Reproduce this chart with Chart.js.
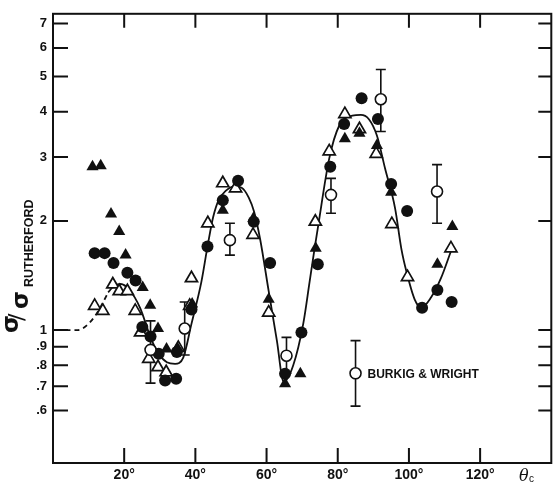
<!DOCTYPE html>
<html>
<head>
<meta charset="utf-8">
<script src="https://cdn.jsdelivr.net/npm/chart.js@4/dist/chart.umd.min.js"></script>
<style>
  html, body { margin: 0; padding: 0; background: #fff; }
  #wrap { width: 560px; height: 483px; }
</style>
</head>
<body>
<div id="wrap"><canvas id="rutherfordChart" width="560" height="483"></canvas></div>
<script>
// scattering angle (deg) and sigma / sigma_Rutherford
const filledCircleX = [11.7, 14.5, 17.0, 20.9, 23.2, 25.1, 27.4, 29.7, 31.5, 34.6, 34.8, 38.9, 43.4, 47.7, 52.0, 56.4, 61.0, 65.2, 69.8, 74.4, 77.9, 81.8, 86.7, 91.3, 95.0, 99.5, 103.7, 108.0, 112.0];
const filledCircleY = [1.63, 1.63, 1.53, 1.44, 1.37, 1.02, 0.96, 0.86, 0.726, 0.734, 0.87, 1.14, 1.70, 2.28, 2.58, 1.99, 1.53, 0.758, 0.985, 1.52, 2.82, 3.70, 4.36, 3.82, 2.53, 2.13, 1.153, 1.29, 1.195];

const filledTriX = [11.1, 13.4, 16.3, 18.6, 20.4, 25.2, 27.3, 29.5, 31.9, 35.0, 39.1, 47.7, 56.3, 60.6, 65.2, 69.5, 73.8, 82.0, 86.1, 91.0, 95.0, 108.0, 112.2];
const filledTriY = [2.82, 2.84, 2.09, 1.87, 1.61, 1.31, 1.17, 1.01, 0.887, 0.89, 1.18, 2.14, 2.03, 1.216, 0.711, 0.758, 1.68, 3.37, 3.49, 3.23, 2.40, 1.52, 1.93];

const openTriX = [11.7, 14.0, 16.8, 18.6, 20.9, 23.1, 24.6, 26.9, 29.5, 31.8, 35.2, 38.4, 38.9, 43.5, 47.7, 51.3, 56.2, 60.6, 73.7, 77.6, 82.0, 86.1, 90.8, 95.2, 99.6, 111.8];
const openTriY = [1.166, 1.13, 1.336, 1.28, 1.28, 1.13, 0.985, 0.833, 0.79, 0.765, 0.893, 1.166, 1.39, 1.97, 2.54, 2.46, 1.83, 1.117, 1.99, 3.11, 3.94, 3.58, 3.06, 1.96, 1.40, 1.68];

// Burkig & Wright, with error bars
const bwX = [27.4, 37.0, 49.7, 65.6, 78.1, 92.1, 107.9];
const bwY = [0.882, 1.01, 1.77, 0.85, 2.36, 4.33, 2.41];
const bwLow = [0.714, 0.854, 1.61, 0.76, 2.10, 3.53, 1.97];
const bwHigh = [1.06, 1.195, 1.97, 0.955, 2.62, 5.23, 2.86];

// drawn curve: dashed lead-in, then the solid fit
const dashX = [3.5, 7.0, 9.5, 12.0, 14.0, 15.5];
const dashY = [1.0, 1.0, 1.03, 1.1, 1.19, 1.27];
const curveX = [15.5, 17.0, 19.0, 21.5, 24.5, 27.4, 29.7, 32.0, 34.3, 36.6, 38.9, 41.7, 43.5, 45.0, 46.5, 48.5, 51.0, 53.0, 55.0, 56.5, 58.2, 60.6, 62.9, 64.8, 67.5, 70.3, 72.1, 73.5, 74.4, 77.6, 80.4, 84.1, 86.5, 88.7, 91.0, 93.3, 96.1, 97.9, 99.3, 101.6, 103.5, 106.2, 109.0, 111.8];
const curveY = [1.27, 1.32, 1.34, 1.29, 1.15, 0.955, 0.86, 0.815, 0.807, 0.84, 1.04, 1.36, 1.72, 2.05, 2.28, 2.42, 2.49, 2.47, 2.32, 2.12, 1.78, 1.28, 0.935, 0.72, 0.80, 1.04, 1.36, 1.68, 1.91, 2.97, 3.66, 3.90, 3.92, 3.82, 3.44, 2.79, 2.17, 1.67, 1.45, 1.216, 1.153, 1.23, 1.39, 1.65];

const xTicks = [20, 40, 60, 80, 100, 120];
const yTicks = [0.6, 0.7, 0.8, 0.9, 1, 2, 3, 4, 5, 6, 7];

const legendText = 'BURKIG & WRIGHT';

function pts(xs, ys) {
    return xs.map((x, i) => ({ x: x, y: ys[i] }));
}

const ink = '#111';

function errorBar(ctx, x, yTop, yBot) {
    ctx.beginPath();
    ctx.moveTo(x, yTop);
    ctx.lineTo(x, yBot);
    ctx.moveTo(x - 5, yTop);
    ctx.lineTo(x + 5, yTop);
    ctx.moveTo(x - 5, yBot);
    ctx.lineTo(x + 5, yBot);
    ctx.stroke();
}

const figurePlugin = {
    id: 'figure',
    beforeDatasetsDraw(chart) {
        const { ctx, scales: { x, y } } = chart;
        ctx.save();
        ctx.strokeStyle = ink;
        ctx.lineWidth = 1.6;
        bwX.forEach((v, i) => {
            errorBar(ctx, x.getPixelForValue(v), y.getPixelForValue(bwHigh[i]), y.getPixelForValue(bwLow[i]));
        });
        ctx.restore();
    },
    afterDraw(chart) {
        const { ctx, chartArea: a, scales: { x, y } } = chart;
        ctx.save();
        ctx.strokeStyle = ink;
        ctx.fillStyle = ink;

        // frame
        ctx.lineWidth = 2;
        ctx.strokeRect(a.left, a.top, a.right - a.left, a.bottom - a.top);

        // inward ticks on all four sides
        ctx.beginPath();
        yTicks.forEach(v => {
            const py = y.getPixelForValue(v);
            ctx.moveTo(a.left, py);
            ctx.lineTo(a.left + 15, py);
            ctx.moveTo(a.right, py);
            ctx.lineTo(a.right - 13, py);
        });
        xTicks.forEach(v => {
            const px = x.getPixelForValue(v);
            ctx.moveTo(px, a.bottom);
            ctx.lineTo(px, a.bottom - 15);
            ctx.moveTo(px, a.top);
            ctx.lineTo(px, a.top + 14);
        });
        ctx.stroke();

        // legend for the open circles
        const lx = x.getPixelForValue(85);
        const ly = y.getPixelForValue(0.76);
        ctx.lineWidth = 1.6;
        errorBar(ctx, lx, y.getPixelForValue(0.935), y.getPixelForValue(0.617));
        ctx.beginPath();
        ctx.arc(lx, ly, 5.5, 0, Math.PI * 2);
        ctx.fillStyle = '#fff';
        ctx.fill();
        ctx.stroke();
        ctx.fillStyle = ink;
        ctx.font = 'bold 12px "Liberation Sans", Arial, sans-serif';
        ctx.textBaseline = 'middle';
        ctx.textAlign = 'left';
        ctx.fillText(legendText, lx + 12, ly + 1);

        // x axis symbol
        ctx.textBaseline = 'alphabetic';
        ctx.font = 'italic 16px "DejaVu Serif", serif';
        ctx.fillText('θ', 519, 481);
        ctx.font = '10px "Liberation Sans", Arial, sans-serif';
        ctx.fillText('c', 529, 482);

        // y axis title, rotated
        ctx.translate(0, 333);
        ctx.rotate(-Math.PI / 2);
        ctx.font = 'bold 23px "DejaVu Sans", sans-serif';
        ctx.fillText('σ', 0, 18);
        ctx.font = '22px "DejaVu Sans", sans-serif';
        ctx.fillText('/', 12, 24);
        ctx.font = 'bold 23px "DejaVu Sans", sans-serif';
        ctx.fillText('σ', 24, 28);
        ctx.font = 'bold 12.5px "Liberation Sans", Arial, sans-serif';
        ctx.fillText('RUTHERFORD', 46, 33);
        ctx.restore();
    }
};

const ctx = document.getElementById('rutherfordChart').getContext('2d');

const rutherfordChart = new Chart(ctx, {
    type: 'scatter',
    data: {
        datasets: [
            {
                label: 'Burkig & Wright',
                data: pts(bwX, bwY),
                pointStyle: 'circle',
                pointRadius: 5.5,
                backgroundColor: '#fff',
                borderColor: ink,
                borderWidth: 1.6,
                order: 1,
            },
            {
                label: 'filled circles',
                data: pts(filledCircleX, filledCircleY),
                pointStyle: 'circle',
                pointRadius: 6,
                backgroundColor: ink,
                borderColor: ink,
                borderWidth: 0,
                order: 3,
            },
            {
                label: 'filled triangles',
                data: pts(filledTriX, filledTriY),
                pointStyle: 'triangle',
                pointRadius: 7,
                backgroundColor: ink,
                borderColor: ink,
                borderWidth: 0,
                order: 2,
            },
            {
                label: 'open triangles',
                data: pts(openTriX, openTriY),
                pointStyle: 'triangle',
                pointRadius: 7,
                backgroundColor: '#fff',
                borderColor: ink,
                borderWidth: 1.7,
                order: 4,
            },
            {
                label: 'fit',
                data: pts(curveX, curveY),
                showLine: true,
                cubicInterpolationMode: 'monotone',
                borderColor: ink,
                borderWidth: 1.8,
                pointRadius: 0,
                order: 10,
            },
            {
                label: 'fit (dashed)',
                data: pts(dashX, dashY),
                showLine: true,
                cubicInterpolationMode: 'monotone',
                borderColor: ink,
                borderWidth: 1.8,
                borderDash: [5, 4],
                pointRadius: 0,
                order: 11,
            },
        ],
    },
    options: {
        responsive: false,
        animation: false,
        events: [],
        layout: {
            padding: { top: 11, right: 1, left: 0, bottom: 0 },
        },
        plugins: {
            legend: { display: false },
            tooltip: { enabled: false },
        },
        scales: {
            x: {
                type: 'linear',
                min: 0,
                max: 140,
                grid: { display: false, drawTicks: false },
                border: { display: false },
                afterBuildTicks: scale => {
                    scale.ticks = xTicks.map(v => ({ value: v }));
                },
                afterFit: scale => {
                    scale.height = 20;
                },
                ticks: {
                    color: ink,
                    padding: 4,
                    font: { family: '"Liberation Sans", Arial, sans-serif', size: 14, weight: 'bold' },
                    maxRotation: 0,
                    callback: v => v + '°',
                },
            },
            y: {
                type: 'logarithmic',
                min: 0.43,
                max: 7.45,
                grid: { display: false, drawTicks: false },
                border: { display: false },
                afterBuildTicks: scale => {
                    scale.ticks = yTicks.map(v => ({ value: v }));
                },
                afterFit: scale => {
                    scale.width = 53;
                },
                ticks: {
                    color: ink,
                    padding: 6,
                    font: { family: '"Liberation Sans", Arial, sans-serif', size: 13, weight: 'bold' },
                    callback: v => (v < 1 ? String(v).replace('0.', '.') : String(v)),
                },
            },
        },
    },
    plugins: [figurePlugin],
});
</script>
</body>
</html>
